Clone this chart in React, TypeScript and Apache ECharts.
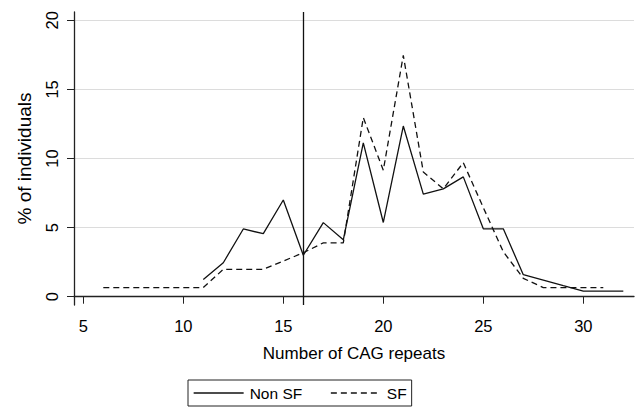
import React, { useEffect, useRef } from "react";
import * as echarts from "echarts";

const nonSfX = [11, 12, 13, 14, 15, 16, 17, 18, 19, 20, 21, 22, 23, 24, 25, 26, 27, 28, 29, 30, 31, 32];
const nonSfY = [1.25, 2.46, 4.9, 4.56, 7.0, 3.0, 5.36, 4.12, 11.13, 5.37, 12.35, 7.42, 7.8, 8.67, 4.91, 4.91, 1.59, 1.2, 0.8, 0.41, 0.41, 0.41];
const sfX = [6, 7, 8, 9, 10, 11, 12, 13, 14, 15, 16, 17, 18, 19, 20, 21, 22, 23, 24, 25, 26, 27, 28, 29, 30, 31];
const sfY = [0.66, 0.66, 0.66, 0.66, 0.66, 0.66, 1.98, 1.98, 1.98, 2.58, 3.18, 3.9, 3.9, 12.96, 9.15, 17.46, 9.03, 7.8, 9.7, 6.45, 3.25, 1.33, 0.66, 0.66, 0.66, 0.66];
const xTicks = [5, 10, 15, 20, 25, 30];
const yTicks = [0, 5, 10, 15, 20];
const cutoffX = 16;
const seriesNames = ["Non SF", "SF"];
const xTitle = "Number of CAG repeats";
const yTitle = "% of individuals";

export default function App() {
  const ref = useRef<HTMLDivElement>(null);
  useEffect(() => {
    if (!ref.current) return;
    const chart = echarts.init(ref.current, undefined, { renderer: "svg" });
    const font = "'Liberation Sans', Arial, sans-serif";
    const axisColor = "#222";
    chart.setOption({
      animation: false,
      textStyle: { fontFamily: font, color: "#000" },
      grid: { left: 74, top: 12, right: 2, bottom: 103, containLabel: false },
      legend: {
        left: 188,
        top: 380,
        orient: "horizontal",
        data: seriesNames,
        itemWidth: 50,
        itemHeight: 14,
        itemGap: 28,
        padding: [5, 5, 5, 5],
        borderColor: "#222",
        borderWidth: 1,
        borderRadius: 0,
        itemStyle: { color: "transparent", borderColor: "transparent", borderWidth: 0, opacity: 0 },
        lineStyle: { width: 1.3 },
        textStyle: { fontFamily: font, fontSize: 15.5, color: "#000", padding: [0, 0, 0, 1] },
      },
      xAxis: {
        type: "value",
        min: 4.535,
        max: 32.535,
        name: xTitle,
        nameLocation: "middle",
        nameGap: 40,
        nameTextStyle: { fontSize: 17, color: "#000", fontFamily: font },
        axisLine: { show: true, lineStyle: { color: axisColor, width: 1.3 } },
        axisTick: { show: true, length: 7, lineStyle: { color: axisColor }, customValues: xTicks },
        axisLabel: { customValues: xTicks, fontSize: 16.5, color: "#000", margin: 12, fontFamily: font },
        splitLine: { show: false },
      },
      yAxis: {
        type: "value",
        min: -0.6,
        max: 20.6,
        name: yTitle,
        nameLocation: "middle",
        nameRotate: 90,
        nameGap: 40,
        nameTextStyle: { fontSize: 19, color: "#000", fontFamily: font },
        axisLine: { show: true, lineStyle: { color: axisColor, width: 1.3 } },
        axisTick: { show: true, length: 7, lineStyle: { color: axisColor }, customValues: yTicks },
        axisLabel: { customValues: yTicks, rotate: 90, fontSize: 16.5, color: "#000", margin: 14, fontFamily: font },
        splitLine: { show: true, lineStyle: { color: "#dcdcdc", width: 1 } },
      },
      series: [
        {
          name: seriesNames[0],
          type: "line",
          symbol: "none",
          data: nonSfX.map((x, i) => [x, nonSfY[i]]),
          lineStyle: { color: "#111", width: 1.3, type: "solid" },
          itemStyle: { color: "#111" },
          markLine: {
            silent: true,
            symbol: "none",
            label: { show: false },
            lineStyle: { color: "#111", width: 1.3, type: "solid" },
            data: [{ xAxis: cutoffX }],
          },
          z: 3,
        },
        {
          name: seriesNames[1],
          type: "line",
          symbol: "none",
          data: sfX.map((x, i) => [x, sfY[i]]),
          lineStyle: { color: "#111", width: 1.3, type: [6, 4] },
          itemStyle: { color: "#111" },
          z: 2,
        },
      ],
    });
    return () => chart.dispose();
  }, []);
  return <div ref={ref} style={{ width: 636, height: 408, position: "absolute", left: 0, top: 0, background: "#fff" }} />;
}
